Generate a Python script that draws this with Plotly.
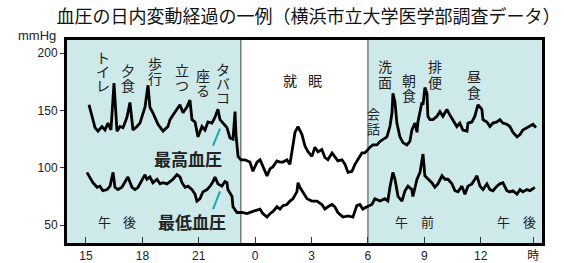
import plotly.graph_objects as go

# hours since 15:00
sys_h = [0.16,0.48,0.64,0.85,1.01,1.17,1.33,1.49,1.65,1.81,1.97,2.18,2.34,2.50,2.71,2.87,3.14,3.30,3.40,3.56,3.83,4.10,4.36,4.47,4.63,4.84,5.00,5.16,5.37,5.53,5.64,5.80,5.96,6.17,6.33,6.49,6.70,6.86,7.02,7.13,7.29,7.50,7.66,7.82,7.93,7.98,8.09,8.24,8.46,8.72,8.88,9.10,9.26,9.41,9.63,9.79,9.95,10.16,10.32,10.48,10.69,10.85,10.96,11.12,11.28,11.49,11.65,11.81,12.02,12.18,12.34,12.55,12.71,12.87,13.09,13.24,13.40,13.62,13.78,13.94,14.15,14.31,14.47,14.68,14.84,15.00,15.11,15.27,15.48,15.64,15.80,16.01,16.17,16.28,16.33,16.44,16.54,16.70,16.86,17.07,17.23,17.34,17.50,17.61,17.66,17.87,17.93,18.03,18.14,18.19,18.30,18.46,18.67,18.83,18.99,19.20,19.36,19.52,19.73,19.89,20.05,20.27,20.32,20.53,20.69,20.85,21.06,21.12,21.33,21.49,21.65,21.86,22.02,22.18,22.39,22.55,22.71,22.93,23.09,23.24,23.46,23.62,23.78,23.94]
sys_v = [155,135,132,136,133,139,133,174,132,136,135,144,157,133,136,139,153,172,153,148,138,132,136,142,146,151,155,148,153,159,142,140,127,136,133,140,139,144,151,142,139,135,126,125,149,129,110,107,107,105,97,105,107,101,93,99,101,106,105,105,107,103,113,131,136,129,119,114,110,118,114,116,109,107,113,110,106,107,103,96,97,103,107,113,113,116,118,120,120,123,125,127,136,148,165,157,139,127,122,120,123,133,139,131,140,157,155,170,165,145,142,142,145,149,145,151,146,142,136,139,133,132,139,140,145,155,151,142,140,136,139,140,142,139,138,136,131,127,129,133,135,136,138,135]

dia_h = [0.05,0.21,0.37,0.59,0.74,0.90,1.12,1.28,1.44,1.54,1.70,1.91,2.07,2.23,2.45,2.61,2.77,2.98,3.14,3.24,3.40,3.56,3.78,3.94,4.10,4.31,4.47,4.63,4.84,5.00,5.11,5.27,5.43,5.64,5.80,5.90,6.06,6.22,6.44,6.60,6.76,6.86,7.02,7.23,7.39,7.50,7.55,7.77,7.82,8.03,8.30,8.56,8.88,9.26,9.41,9.63,9.79,9.95,10.16,10.32,10.48,10.69,10.85,11.01,11.22,11.28,11.38,11.54,11.76,12.02,12.29,12.55,12.71,12.87,13.09,13.24,13.40,13.67,13.94,14.20,14.41,14.57,14.73,14.95,15.21,15.37,15.64,15.90,16.06,16.17,16.33,16.44,16.60,16.81,16.97,17.13,17.34,17.39,17.61,17.77,17.93,18.03,18.19,18.40,18.56,18.72,18.94,19.10,19.26,19.47,19.63,19.79,20.00,20.16,20.32,20.53,20.69,20.80,20.96,21.12,21.33,21.49,21.65,21.86,22.02,22.18,22.39,22.55,22.71,22.93,23.09,23.24,23.46,23.62,23.88]
dia_v = [96,92,87,83,84,80,81,84,96,83,81,83,87,92,83,81,83,90,94,90,92,87,90,86,87,86,88,90,94,92,87,83,84,81,77,71,73,79,81,84,88,92,86,84,88,87,81,75,66,61,61,60,62,64,60,57,60,62,66,64,67,68,71,73,79,87,83,79,73,71,71,68,64,66,68,66,61,57,58,57,67,68,64,66,68,73,71,73,71,83,96,90,75,71,80,84,81,75,90,96,112,93,90,87,83,86,93,90,90,86,80,79,84,77,84,86,90,93,84,81,86,81,80,84,86,87,80,79,80,77,81,79,81,80,83]

tick_vals = [0, 3, 6, 9, 12, 15, 18, 21, 23.8]
tick_text = ["15", "18", "21", "0", "3", "6", "9", "12", "時"]
y_ticks = [50, 100, 150, 200]

night_start = 8.24
night_end = 15.0
x_range = [-1.01, 24.26]
y_range = [34.4, 211.5]

# vertical event labels: (text, hour, mmHg of first char, char spacing px, size)
events = [
    ("トイレ", 0.9, 196.7, 14, 14),
    ("夕食", 2.23, 185.4, 15, 14),
    ("歩行", 3.67, 191.5, 15, 14),
    ("立つ", 5.11, 185.4, 15, 14),
    ("座る", 6.22, 181.1, 15, 14),
    ("タバコ", 7.29, 186.3, 14, 14),
    ("洗面", 15.9, 188.9, 16, 14),
    ("朝食", 17.18, 176.7, 15, 14),
    ("排便", 18.56, 188.9, 16, 14),
    ("昼食", 20.64, 180.2, 16, 14),
    ("会話", 15.32, 147.2, 15, 13),
]

CJK = "Noto Sans CJK JP"
LAT = "Liberation Sans, Arial, Noto Sans CJK JP"
SHADE = "#cde9ea"
TEAL = "#1aa9b3"

fig = go.Figure()
fig.add_trace(go.Scatter(x=sys_h, y=sys_v, mode="lines",
                         line=dict(color="black", width=2.8), hoverinfo="skip"))
fig.add_trace(go.Scatter(x=dia_h, y=dia_v, mode="lines",
                         line=dict(color="black", width=2.8), hoverinfo="skip"))

shapes = [
    dict(type="rect", xref="x", yref="y", x0=x_range[0], x1=night_start,
         y0=y_range[0], y1=y_range[1], fillcolor=SHADE, line_width=0, layer="below"),
    dict(type="rect", xref="x", yref="y", x0=night_end, x1=x_range[1],
         y0=y_range[0], y1=y_range[1], fillcolor=SHADE, line_width=0, layer="below"),
    dict(type="line", xref="x", yref="y", x0=night_start, x1=night_start,
         y0=y_range[0], y1=y_range[1], line=dict(color="#444", width=1), layer="below"),
    dict(type="line", xref="x", yref="y", x0=night_end, x1=night_end,
         y0=y_range[0], y1=y_range[1], line=dict(color="#444", width=1), layer="below"),
    dict(type="line", xref="x", yref="y", x0=6.76, y0=119.4, x1=7.13, y1=134.2,
         line=dict(color=TEAL, width=2)),
    dict(type="line", xref="x", yref="y", x0=6.76, y0=63.9, x1=7.13, y1=79.5,
         line=dict(color=TEAL, width=2)),
]

ann = []
for text, hx, vy, sp, sz in events:
    for i, ch in enumerate(text):
        ann.append(dict(x=hx, y=vy, xref="x", yref="y", text=ch, showarrow=False,
                        yshift=-i * sp, font=dict(family=CJK, size=sz, color="#222"),
                        xanchor="center", yanchor="middle"))

def htext(ch, hx, vy, sz, bold=False):
    ann.append(dict(x=hx, y=vy, xref="x", yref="y",
                    text=("<b>%s</b>" % ch) if bold else ch, showarrow=False,
                    font=dict(family=CJK, size=sz, color="#222"),
                    xanchor="center", yanchor="middle"))

htext("就", 10.85, 176.7, 14)
htext("眠", 12.18, 176.7, 14)
htext("午", 1.01, 53.5, 13)
htext("後", 2.34, 53.5, 13)
htext("午", 16.76, 53.5, 13)
htext("前", 18.19, 53.5, 13)
htext("午", 22.23, 53.5, 13)
htext("後", 23.62, 53.5, 13)
htext("最高血圧", 5.43, 108.4, 17, bold=True)
htext("最低血圧", 5.64, 53.5, 17, bold=True)

ann.append(dict(x=-0.063, y=1.02, xref="paper", yref="paper", text="mmHg",
                showarrow=False, font=dict(family=LAT, size=13, color="#222"),
                xanchor="center", yanchor="middle"))

fig.update_layout(
    width=564, height=263,
    margin=dict(l=67, r=22, t=40, b=20, autoexpand=False),
    paper_bgcolor="white", plot_bgcolor="white",
    showlegend=False,
    font=dict(family=LAT, size=12, color="#222"),
    title=dict(text="血圧の日内変動経過の一例（横浜市立大学医学部調査データ）",
               x=0.547, xanchor="center", y=0.935, yanchor="middle",
               font=dict(family=CJK, size=18, color="#111")),
    shapes=shapes, annotations=ann,
    xaxis=dict(range=x_range, tickvals=tick_vals, ticktext=tick_text,
               ticks="inside", ticklen=6, tickwidth=1, tickcolor="#333",
               showline=True, linewidth=3, linecolor="black", mirror=True,
               showgrid=False, zeroline=False, fixedrange=True, automargin=False,
               tickfont=dict(family=LAT, size=12, color="#222")),
    yaxis=dict(range=y_range, tickvals=y_ticks,
               ticks="outside", ticklen=4, tickwidth=1, tickcolor="#333",
               showline=True, linewidth=3, linecolor="black", mirror=True,
               showgrid=False, zeroline=False, fixedrange=True, automargin=False,
               tickfont=dict(family=LAT, size=12, color="#222")),
)

fig.write_html("out.html", config={"displayModeBar": False},
               post_script="document.body.style.margin='0px';document.body.style.overflow='hidden';")
